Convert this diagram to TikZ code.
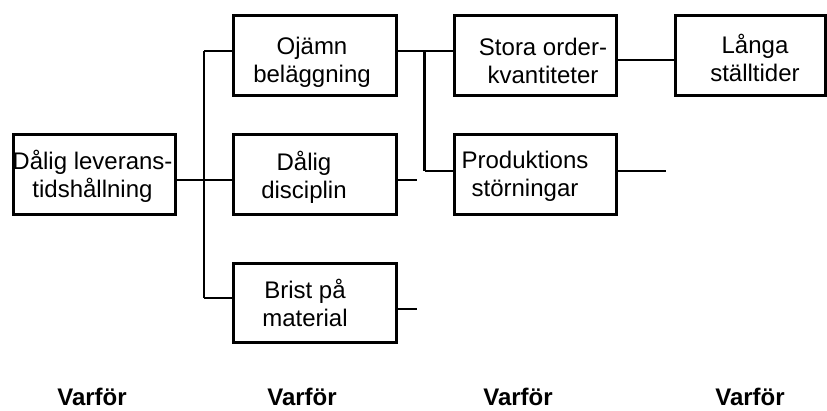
\documentclass[tikz,border=0pt]{standalone}
\usepackage{fontspec}
\setmainfont{Liberation Sans}
\begin{document}
\begin{tikzpicture}[x=1pt,y=-1pt,
  box/.style={draw=black,line width=3pt,rectangle,inner sep=0pt},
  txt/.style={anchor=base,inner sep=0pt,align=center,
    font=\fontsize{24}{28.5}\selectfont,text=black},
  conn/.style={draw=black,line width=2.2pt},
  why/.style={anchor=base,inner sep=0pt,font=\fontsize{24}{28}\selectfont\bfseries}]
\useasboundingbox (0,0) rectangle (827,411);
% boxes
\node[box,minimum width=162pt,minimum height=80pt] (b0) at (94,175) {};
\node[box,minimum width=163pt,minimum height=80pt] (b1) at (314.5,56) {};
\node[box,minimum width=163pt,minimum height=80pt] (b2) at (314.5,175) {};
\node[box,minimum width=163pt,minimum height=79pt] (b3) at (314.5,303.5) {};
\node[box,minimum width=162pt,minimum height=80pt] (c1) at (535,56) {};
\node[box,minimum width=162pt,minimum height=80pt] (c2) at (535,175) {};
\node[box,minimum width=150pt,minimum height=80pt] (d1) at (750,56) {};
% texts (last-line baselines)
\node[txt] (b0t) at (92.5,198) {Dålig leverans-\\tidshållning};
\node[txt] (b1t) at (312,83) {Ojämn\\beläggning};
\node[txt] (b2t) at (304,199) {Dålig\\disciplin};
\node[txt] (b3t) at (305,327) {Brist på\\material};
\node[txt] (c1t) at (543,84) {Stora order-\\kvantiteter};
\node[txt] (c2t) at (525,197) {Produktions\\störningar};
\node[txt] (d1t) at (755,82) {Långa\\ställtider};
% junction coordinates
\coordinate (j0) at (204,180);
\coordinate (j1) at (204,51);
\coordinate (j3) at (204,298);
\coordinate (k1) at (424.5,51);
\coordinate (k2) at (424.5,171);
\coordinate (s2) at (417,180);
\coordinate (s3) at (417,309);
\coordinate (m1) at (614,60);
\coordinate (p2) at (666,171);
% connectors
\draw[conn] (b0.east |- j0) -- (b2.west |- j0);
\draw[conn] (j1) -- (j3);
\draw[conn] (j1) -- (b1.west |- j1);
\draw[conn] (j3) -- (b3.west |- j3);
\draw[conn] (b1.east |- k1) -- (c1.west |- k1);
\draw[conn] (k1) -- (k2);
\draw[conn] (k2) -- (c2.west |- k2);
\draw[conn] (b2.east |- s2) -- (s2);
\draw[conn] (b3.east |- s3) -- (s3);
\draw[conn] (c1.east |- m1) -- (d1.west |- m1);
\draw[conn] (c2.east |- p2) -- (p2);
% labels
\node[why] (w1) at (92,406) {Varför};
\node[why] (w2) at (302,406) {Varför};
\node[why] (w3) at (518,406) {Varför};
\node[why] (w4) at (750,406) {Varför};
\end{tikzpicture}
\end{document}
